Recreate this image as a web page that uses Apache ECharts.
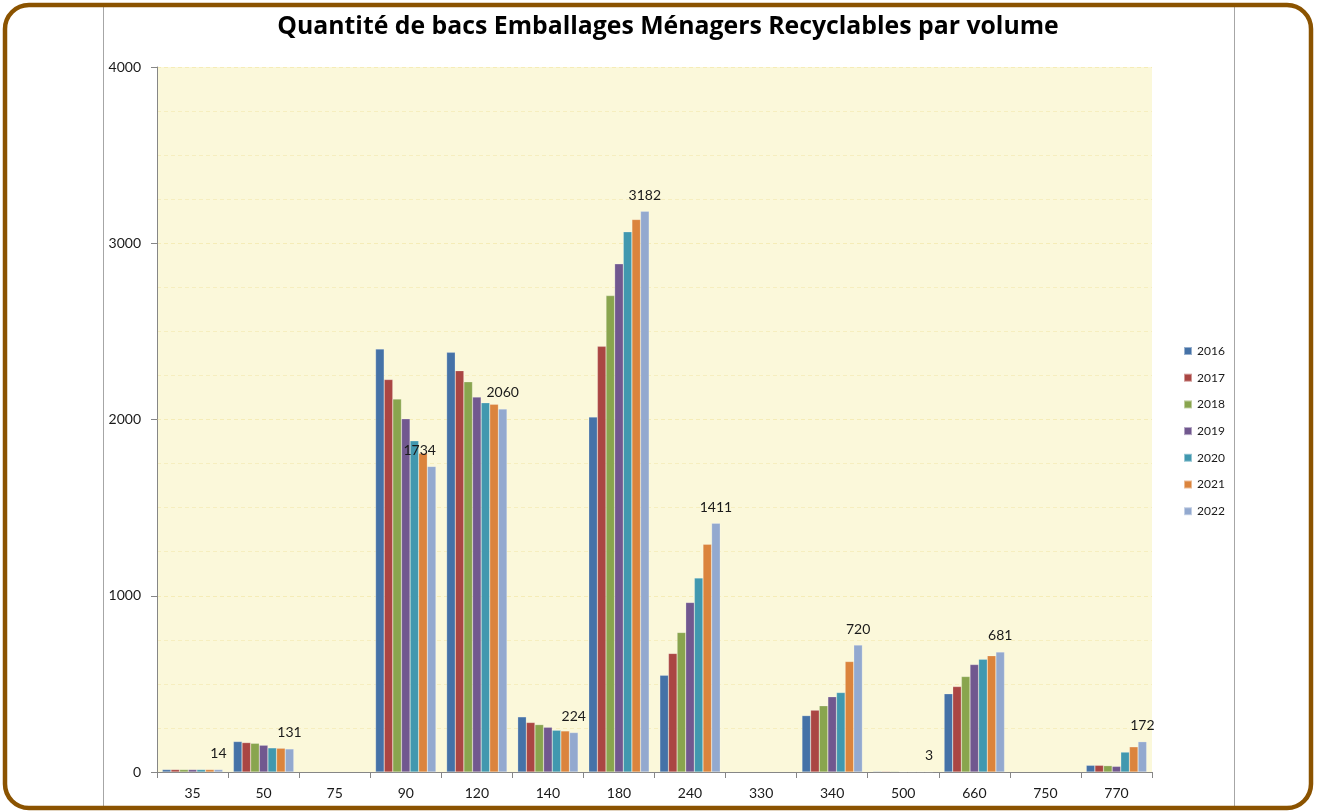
<!DOCTYPE html>
<html>
<head>
<meta charset="utf-8">
<title>Quantité de bacs EMR par volume</title>
<script src="https://cdn.jsdelivr.net/npm/echarts@6/dist/echarts.min.js"></script>
<style>
  html, body { margin: 0; padding: 0; background: #fff; }
  #chart { width: 1319px; height: 811px; }
</style>
</head>
<body>
<div id="chart"></div>
<script>
// volumes des bacs (litres)
var volumes = ['35', '50', '75', '90', '120', '140', '180', '240', '330', '340', '500', '660', '750', '770'];
var years = ['2016', '2017', '2018', '2019', '2020', '2021', '2022'];

// nombre de bacs par année
var v2016 = [14, 173, null, 2400, 2381, 313, 2014, 549, null, 320, 4, 444, null, 38];
var v2017 = [14, 167, null, 2227, 2277, 281, 2415, 673, null, 351, 4, 485, null, 38];
var v2018 = [14, 163, null, 2116, 2214, 269, 2703, 792, null, 376, 4, 542, null, 36];
var v2019 = [14, 152, null, 2004, 2127, 254, 2883, 962, null, 427, 3, 610, null, 32];
var v2020 = [14, 137, null, 1879, 2095, 237, 3065, 1101, null, 451, 3, 640, null, 113];
var v2021 = [14, 135, null, 1809, 2087, 233, 3135, 1292, null, 627, 3, 660, null, 143];
var v2022 = [14, 131, null, 1734, 2060, 224, 3182, 1411, null, 720, 3, 681, null, 172];

var yearValues = [v2016, v2017, v2018, v2019, v2020, v2021, v2022];
var colors = ['#4572A7', '#AA4643', '#89A54E', '#71588F', '#4198AF', '#DB843D', '#93A9CF'];

var myChart = echarts.init(document.getElementById('chart'));

var series = [];
years.forEach(function (y, i) {
    var last = (i === years.length - 1);
    series.push({
        name: y,
        type: 'bar',
        barGap: '0%',
        barCategoryGap: '15%',
        itemStyle: {
            color: colors[i],
            borderColor: 'rgba(255,255,255,0.45)',
            borderWidth: 0.5
        },
        label: {
            show: last,
            position: 'top',
            distance: 9,
            fontFamily: 'Lato',
            fontSize: 14,
            color: '#1a1a1a'
        },
        // l'étiquette 1734 est décalée à gauche sur l'original
        data: yearValues[i].map(function (v, k) {
            if (last && volumes[k] === '90') {
                return { value: v, label: { offset: [-12, 0] } };
            }
            return v;
        })
    });
});

var option = {
    backgroundColor: '#ffffff',
    color: colors,
    animation: false,
    title: {
        text: 'Quantité de bacs Emballages Ménagers Recyclables par volume',
        left: 668,
        textAlign: 'center',
        top: 14,
        padding: 0,
        textStyle: {
            fontFamily: 'Open Sans',
            fontWeight: 'bold',
            fontSize: 24.8,
            color: '#000'
        }
    },
    legend: {
        orient: 'vertical',
        left: 1178,
        top: 339,
        icon: 'rect',
        itemWidth: 8,
        itemHeight: 8,
        itemGap: 12.7,
        textStyle: {
            fontFamily: 'Lato',
            fontSize: 12,
            lineHeight: 14,
            color: '#1a1a1a'
        },
        data: years
    },
    grid: {
        left: 157,
        right: 167,
        top: 67,
        bottom: 39,
        show: true,
        backgroundColor: '#FBF8DA',
        borderWidth: 0
    },
    xAxis: {
        type: 'category',
        data: volumes,
        axisLine: { lineStyle: { color: '#868686', width: 1 } },
        axisTick: { show: true, length: 6, lineStyle: { color: '#868686' } },
        axisLabel: {
            fontFamily: 'Lato',
            fontSize: 14,
            color: '#1a1a1a',
            margin: 14
        }
    },
    yAxis: {
        type: 'value',
        min: 0,
        max: 4000,
        interval: 1000,
        axisLine: { show: true, lineStyle: { color: '#868686', width: 1 } },
        axisTick: { show: true, length: 6, lineStyle: { color: '#868686' } },
        axisLabel: {
            fontFamily: 'Lato',
            fontSize: 14,
            color: '#1a1a1a',
            margin: 16,
            formatter: function (v) { return String(v); }
        },
        splitLine: {
            show: true,
            lineStyle: { color: 'rgba(238,222,140,0.45)', type: [4, 3], width: 1 }
        },
        minorTick: { show: false, splitNumber: 4 },
        minorSplitLine: {
            show: true,
            lineStyle: { color: 'rgba(238,222,140,0.35)', type: [4, 3], width: 1 }
        }
    },
    graphic: [
        {
            type: 'line',
            shape: { x1: 103.5, y1: 7, x2: 103.5, y2: 807 },
            style: { stroke: '#a6a6a6', lineWidth: 1 },
            z: -1
        },
        {
            type: 'line',
            shape: { x1: 1234.5, y1: 7, x2: 1234.5, y2: 807 },
            style: { stroke: '#a6a6a6', lineWidth: 1 },
            z: -1
        },
        {
            type: 'rect',
            shape: { x: 5, y: 5, width: 1306, height: 803, r: 24 },
            style: { fill: 'none', stroke: '#8B5300', lineWidth: 4.5 },
            z: 100
        }
    ],
    series: series
};

myChart.setOption(option);
window.addEventListener('resize', function () {
    myChart.resize();
});
</script>
</body>
</html>
